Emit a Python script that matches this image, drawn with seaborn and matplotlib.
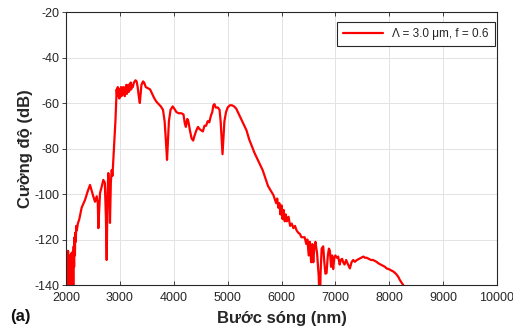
import numpy as np
import pandas as pd
import matplotlib
matplotlib.use("Agg")
import matplotlib.pyplot as plt
import seaborn as sns

# ── Spectrum (wavelength nm, intensity dB) ──
wavelength = [
    2000, 2008, 2015, 2022, 2030, 2038, 2045, 2052, 2060, 2068, 2075, 2082,
    2090, 2098, 2105, 2112, 2120, 2128, 2135, 2142, 2150, 2158, 2165, 2172,
    2180, 2190, 2200, 2220, 2247, 2290, 2353, 2400, 2445, 2475, 2506, 2538,
    2570, 2590, 2600, 2615, 2631, 2660, 2692, 2720, 2740, 2755, 2770, 2785,
    2800, 2816, 2832, 2848, 2862, 2878, 2890, 2905, 2918, 2930,
    2940, 2950, 2960, 2970, 2980, 2990, 3000, 3010, 3020, 3030, 3040, 3050,
    3060, 3070, 3080, 3090, 3100, 3110, 3120, 3130, 3140, 3150, 3160, 3170,
    3180, 3190, 3200, 3210, 3220, 3240, 3260, 3290, 3310, 3330, 3350, 3370,
    3385, 3400, 3430, 3450, 3480, 3520, 3560, 3600, 3640, 3680, 3720, 3760,
    3800, 3830, 3855, 3875, 3890, 3910, 3940, 3980, 4010, 4050, 4090, 4140,
    4180, 4205, 4225, 4250, 4270, 4300, 4330, 4360, 4390, 4420, 4450, 4480,
    4510, 4540, 4570, 4600, 4630, 4660, 4690, 4715, 4735, 4755, 4780, 4820,
    4850, 4870, 4890, 4905, 4920, 4940, 4970, 5000, 5040, 5080, 5120, 5160,
    5200, 5250, 5300, 5350, 5400, 5450, 5500, 5550, 5600, 5650, 5700, 5750,
    5800, 5850, 5900, 5920, 5940, 5960, 5980, 6000, 6020, 6040, 6060, 6080,
    6100, 6130, 6160, 6190, 6220, 6250, 6280, 6310, 6340, 6370, 6400, 6430,
    6460, 6480, 6505, 6525, 6550, 6570, 6590, 6610, 6630, 6660, 6690, 6700,
    6712, 6725, 6745, 6774, 6795, 6815, 6836, 6860, 6880, 6898, 6920, 6940,
    6959, 6980, 7000, 7025, 7052, 7080, 7100, 7125, 7145, 7170, 7200, 7235,
    7269, 7300, 7330, 7362, 7400, 7440, 7480, 7520, 7547, 7580, 7620, 7660,
    7700, 7740, 7764, 7800, 7840, 7880, 7920, 7950, 7990, 8030, 8070, 8104,
    8140, 8170, 8197, 8230, 8260, 8280,
]
intensity = [
    -130, -126, -140, -128, -137, -125, -142, -129, -136, -127, -143, -130,
    -138, -126, -145, -128, -136, -125, -141, -123, -132, -119, -127, -117,
    -121, -114, -116, -113, -111, -106, -102.6, -99, -96, -98.5, -101, -103.4,
    -101, -104, -115, -108, -99.6, -97, -93.8, -95, -110, -129, -100, -90.8,
    -97, -112.7, -95, -89.5, -92, -85, -79, -73, -67.5, -60,
    -54, -57, -53, -56, -54, -58, -54, -56, -53, -57, -54, -56,
    -53, -56, -54, -57, -53, -55, -52, -56, -53, -55, -52, -55,
    -52, -54, -51, -54, -52, -53, -51, -50, -50.5, -53, -57, -60,
    -56, -52, -50.5, -51, -53, -53.5, -54, -56, -58, -59.5, -60.5, -61.5,
    -63, -68, -77, -85, -78, -68, -63, -61.5, -62.5, -64, -64.5, -64.5,
    -65, -69, -70.5, -67, -68, -72, -75.5, -76.5, -74, -72, -70.5, -71.5,
    -72, -72.5, -70, -70, -68, -68.5, -65.5, -64, -61, -60.5, -62, -62,
    -63, -68, -76, -82.5, -76, -68, -64, -62, -61, -61, -61.5, -62.5,
    -64.5, -67, -69.5, -72, -76, -79, -82, -84.5, -87, -89.5, -93, -96.5,
    -98.5, -100.5, -104, -102, -106, -104, -109, -105, -111, -107, -112, -109,
    -112, -110, -114, -113, -115, -114, -116, -117, -117.5, -119, -119, -119,
    -122, -120, -127, -121, -130, -122, -130, -123, -121, -126, -136, -142,
    -150, -135, -124, -123, -130, -135, -134.8, -127, -124, -125, -132, -127,
    -133, -128, -127, -128, -127.5, -131, -129, -128.5, -130, -131, -129, -131,
    -132.7, -130, -129, -129.8, -129, -128.5, -128, -127.5, -128, -128, -128.5, -129,
    -129, -129.5, -129.8, -130.5, -131, -131.5, -132, -132.7, -133, -133.5, -134, -134.6,
    -135.5, -136.5, -137.8, -139, -140, -145,
]

x_ticks = [2000, 3000, 4000, 5000, 6000, 7000, 8000, 9000, 10000]
y_ticks = [-140, -120, -100, -80, -60, -40, -20]
series_label = "Λ = 3.0 μm, f = 0.6"

df = pd.DataFrame({"wavelength": wavelength, "intensity": intensity})

sns.set_theme(style="whitegrid")
plt.rcParams["font.family"] = ["Liberation Sans", "DejaVu Sans"]
plt.rcParams["axes.unicode_minus"] = False

fig = plt.figure(figsize=(5.13, 3.29), dpi=100)
ax = fig.add_axes([0.1287, 0.1337, 0.8401, 0.8298])
ax.set_facecolor("white")

sns.lineplot(data=df, x="wavelength", y="intensity", sort=False,
             estimator=None, color="#ff0000", linewidth=1.6,
             label=series_label, ax=ax)

ax.set_xlim(2000, 10000)
ax.set_ylim(-140, -20)
ax.set_xticks(x_ticks)
ax.set_yticks(y_ticks)
ax.tick_params(axis="both", labelsize=9, colors="#262626", length=3,
               width=0.6, pad=2)
ax.tick_params(axis="x", direction="in", top=True, bottom=True, pad=5)
ax.tick_params(axis="y", direction="out", left=True, right=False)
ax.grid(True, color="#e3e3e3", linewidth=0.7)
for side in ["left", "right", "top", "bottom"]:
    ax.spines[side].set_visible(True)
    ax.spines[side].set_color("#262626")
    ax.spines[side].set_linewidth(0.8)

ax.set_xlabel("Bước sóng (nm)", fontsize=12, fontweight="bold",
              color="#262626", labelpad=5)
ax.set_ylabel("Cường độ (dB)", fontsize=12, fontweight="bold",
              color="#262626", labelpad=1)
fig.text(0.02, 0.025, "(a)", fontsize=12, fontweight="bold", color="#111111")

leg = ax.legend(loc="upper right", bbox_to_anchor=(0.995, 0.963),
                fontsize=8.5, frameon=True, fancybox=False,
                handlelength=3.4, borderpad=0.5, borderaxespad=0)
leg.get_frame().set_edgecolor("#262626")
leg.get_frame().set_linewidth(0.8)
leg.get_frame().set_alpha(1)

fig.savefig("out.png", dpi=100)
